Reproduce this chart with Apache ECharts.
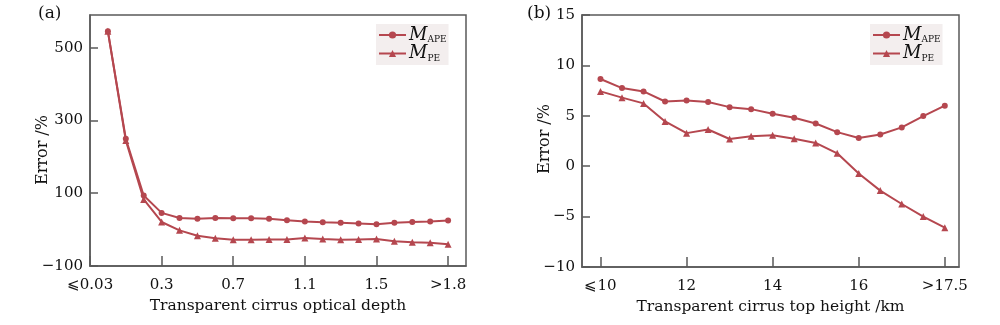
<!DOCTYPE html>
<html><head><meta charset="utf-8">
<script src="https://cdn.jsdelivr.net/npm/echarts@6/dist/echarts.min.js"></script>
<style>html,body{margin:0;padding:0;background:#fff}#c{width:1000px;height:325px}</style>
</head><body><div id="c"></div>
<script>
// Panel (a): optical depth bins (position index along axis)
const depthPos = [0,1,2,3,4,5,6,7,8,9,10,11,12,13,14,15,16,17,18,19];
const depthApe = [545,250,94,46,32,30,32,31,31,30,26,22,20,19,17,15,19,21,22,25];
const depthPe  = [545,245,83,21,-2,-17,-24,-28,-28,-27,-27,-23,-26,-28,-27,-26,-32,-35,-36,-40];
const depthTickPos = [-1,3,7,11,15,19];
const depthTickLabels = ['⩽0.03','0.3','0.7','1.1','1.5','>1.8'];
const leftYTicks = [-100,100,300,500];

// Panel (b): top height (km)
const heights = [10,10.5,11,11.5,12,12.5,13,13.5,14,14.5,15,15.5,16,16.5,17,17.5,18];
const heightApe = [8.65,7.75,7.42,6.42,6.52,6.36,5.86,5.66,5.2,4.8,4.24,3.38,2.8,3.15,3.85,4.97,6.0];
const heightPe  = [7.42,6.8,6.23,4.44,3.28,3.64,2.7,2.98,3.07,2.73,2.31,1.28,-0.72,-2.42,-3.75,-5.0,-6.1];
const heightTickPos = [10,12,14,16,18];
const heightTickLabels = ['⩽10','12','14','16','>17.5'];
const rightYTicks = [-10,-5,0,5,10,15];

const red = '#b5474f';
const axisCol = '#5a5a5a';
const font = 'DejaVu Serif';
const fs = 15;

function xAxisCfg(grid, min, max, ticks, labels, name) {
  return {
    type: 'value', gridIndex: grid, min: min, max: max,
    name: name, nameLocation: 'middle', nameGap: 31,
    nameTextStyle: {fontFamily: font, fontSize: 15.5, color: '#111'},
    axisLine: {show: true, onZero: false, lineStyle: {color: axisCol, width: 1.5}},
    axisTick: {show: true, inside: true, length: 10, customValues: ticks, lineStyle: {color: axisCol, width: 1.5}},
    axisLabel: {customValues: ticks, margin: 12, fontFamily: font, fontSize: fs, color: '#111',
      formatter: v => { const i = ticks.indexOf(v); return i >= 0 ? labels[i] : ''; }},
    splitLine: {show: false}
  };
}
function yAxisCfg(grid, min, max, ticks) {
  return {
    type: 'value', gridIndex: grid, min: min, max: max,
    axisLine: {show: true, onZero: false, lineStyle: {color: axisCol, width: 1.5}},
    axisTick: {show: true, inside: true, length: 8, customValues: ticks, lineStyle: {color: axisCol, width: 1.5}},
    axisLabel: {customValues: ticks, margin: 7, fontFamily: font, fontSize: fs, color: '#111',
      formatter: v => String(v).replace('-', '\u2212')},
    splitLine: {show: false}
  };
}
function legendCfg(left) {
  return {
    orient: 'vertical', left: left, top: 24, itemWidth: 27, itemHeight: 9, itemGap: 0,
    backgroundColor: '#f3eeee', padding: [2, 2, 2, 2],
    data: ['APE', 'PE'],
    formatter: n => '{m|M}{s|' + n + '}',
    textStyle: {
      padding: [0, 0, 0, -2],
      rich: {
        m: {fontFamily: font, fontStyle: 'italic', fontSize: 18, color: '#111', lineHeight: 18},
        s: {fontFamily: font, fontSize: 9, color: '#111', padding: [10, 0, 0, 0]}
      }
    }
  };
}
function seriesCfg(name, xs, ys, grid, sym, size) {
  return {
    name: name, type: 'line', xAxisIndex: grid, yAxisIndex: grid,
    data: xs.map((x, i) => [x, ys[i]]),
    symbol: sym, symbolSize: size, showSymbol: true,
    lineStyle: {color: red, width: 2}, itemStyle: {color: red},
    animation: false
  };
}
function yName(x, y) {
  return {type: 'text', x: x, y: y, rotation: Math.PI / 2,
    style: {text: 'Error /%', fontFamily: font, fontSize: 16, fill: '#111', align: 'center', verticalAlign: 'middle'}};
}

const chart = echarts.init(document.getElementById('c'), null, {renderer: 'canvas'});
chart.setOption({
  animation: false,
  grid: [
    {left: 90, right: 534, top: 15, bottom: 59, show: true, borderColor: axisCol, borderWidth: 1.5},
    {left: 582, right: 41, top: 15, bottom: 58, show: true, borderColor: axisCol, borderWidth: 1.5}
  ],
  xAxis: [
    xAxisCfg(0, -1, 20, depthTickPos, depthTickLabels, 'Transparent cirrus optical depth'),
    xAxisCfg(1, 9.57, 18.33, heightTickPos, heightTickLabels, 'Transparent cirrus top height /km')
  ],
  yAxis: [
    yAxisCfg(0, -100, 590, leftYTicks),
    yAxisCfg(1, -10, 15, rightYTicks)
  ],
  legend: [legendCfg(376), legendCfg(870)],
  graphic: [
    {type: 'text', left: 38, top: 5, style: {text: '(a)', fontFamily: font, fontSize: 17, fill: '#111'}},
    {type: 'text', left: 527, top: 5, style: {text: '(b)', fontFamily: font, fontSize: 17, fill: '#111'}},
    yName(43, 150),
    yName(545, 139)
  ],
  series: [
    seriesCfg('APE', depthPos, depthApe, 0, 'circle', 6),
    seriesCfg('PE', depthPos, depthPe, 0, 'triangle', 7),
    seriesCfg('APE', heights, heightApe, 1, 'circle', 6),
    seriesCfg('PE', heights, heightPe, 1, 'triangle', 7)
  ]
});
</script></body></html>
